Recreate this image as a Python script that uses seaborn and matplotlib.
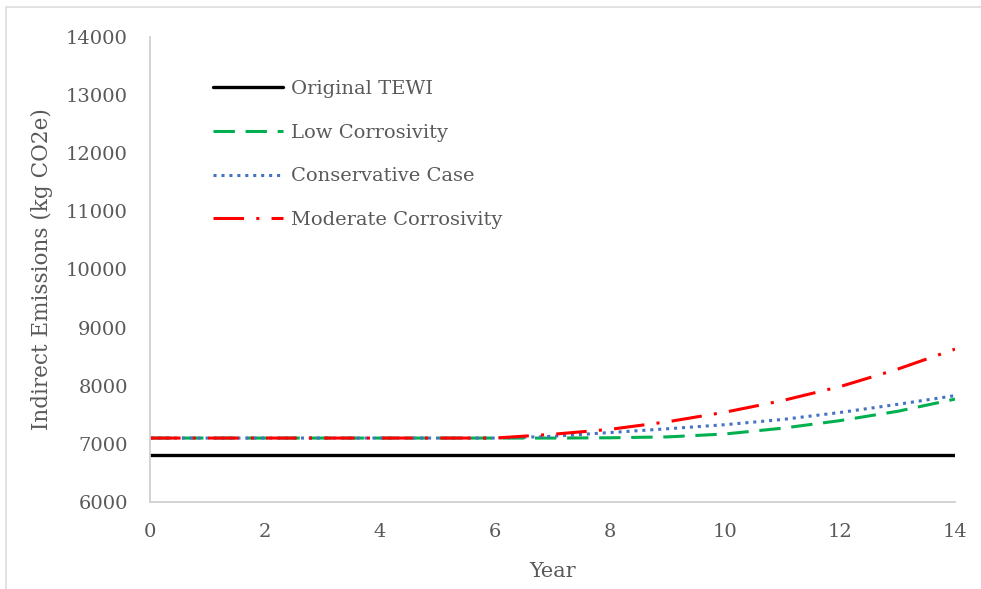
import matplotlib
matplotlib.use("Agg")
import matplotlib.pyplot as plt
import seaborn as sns
import pandas as pd
from matplotlib.patches import Rectangle

years = list(range(0, 15))
original_tewi = [6810] * 15
low_corrosivity = [7100, 7100, 7100, 7100, 7100, 7100, 7100, 7100, 7105, 7120, 7170, 7270, 7400, 7560, 7770]
conservative_case = [7100, 7100, 7100, 7100, 7100, 7100, 7100, 7130, 7195, 7260, 7330, 7420, 7540, 7680, 7830]
moderate_corrosivity = [7100, 7100, 7100, 7100, 7100, 7100, 7100, 7165, 7250, 7380, 7545, 7745, 7985, 8285, 8630]

series_names = ["Original TEWI", "Low Corrosivity", "Conservative Case", "Moderate Corrosivity"]
series_values = [original_tewi, low_corrosivity, conservative_case, moderate_corrosivity]
colors = ["#000000", "#00B050", "#4472C4", "#FF0000"]
styles = ["-", (0, (7, 3.5)), (0, (1, 1.6)), (0, (10, 4, 1, 4))]
widths = [2.4, 2.2, 2.2, 2.2]

sns.set_style("white")
plt.rcParams["font.family"] = ["DejaVu Serif"]

fig = plt.figure(figsize=(9.81, 5.89), dpi=100)
ax = fig.add_axes([150 / 981, 1 - 502 / 589, 805 / 981, 465 / 589])

for name, vals, c, ls, lw in zip(series_names, series_values, colors, styles, widths):
    df = pd.DataFrame({"Year": years, "Value": vals})
    sns.lineplot(data=df, x="Year", y="Value", ax=ax, color=c, linewidth=lw,
                 linestyle=ls, label=name)

ax.set_xlim(0, 14)
ax.set_ylim(6000, 14000)
ax.set_xticks(range(0, 15, 2))
ax.set_yticks(range(6000, 14001, 1000))
ax.tick_params(axis="y", labelsize=14, labelcolor="#595959", length=0, pad=16)
ax.tick_params(axis="x", labelsize=14, labelcolor="#595959", length=0, pad=15)
ax.set_xlabel("Year", fontsize=15, color="#595959", labelpad=15)
ax.set_ylabel("Indirect Emissions (kg CO2e)", fontsize=15.5, color="#595959", labelpad=9)

for s in ["top", "right"]:
    ax.spines[s].set_visible(False)
for s in ["left", "bottom"]:
    ax.spines[s].set_color("#D0D0D0")
    ax.spines[s].set_linewidth(1.3)

leg = ax.legend(loc="upper left", bbox_to_anchor=(0.057, 0.945), frameon=False,
                fontsize=14, handlelength=3.6, handletextpad=0.41, labelspacing=1.32,
                labelcolor="#595959")

fig.patches.append(Rectangle((6 / 981, -0.1), 1.2, 1 - 7 / 589 + 0.1, transform=fig.transFigure,
                             fill=False, edgecolor="#DDDDDD", linewidth=1.2))

fig.savefig("out.png", dpi=100)
